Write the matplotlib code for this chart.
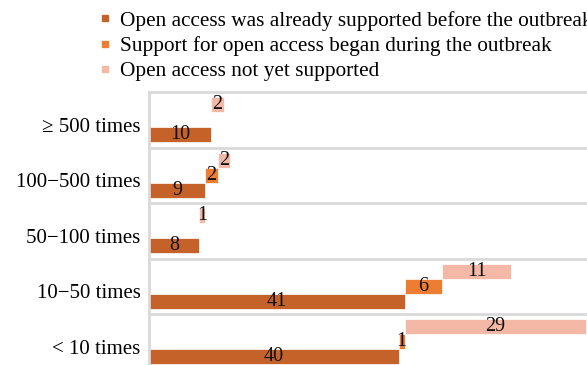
import matplotlib
matplotlib.use("Agg")
import matplotlib.pyplot as plt
from matplotlib.lines import Line2D
import numpy as np

# Download-count groups and the number of journals in each support status
categories = ["\u2265 500 times", "100\u2212500 times", "50\u2212100 times", "10\u221250 times", "< 10 times"]
already_supported = [10, 9, 8, 41, 40]
began_during = [0, 2, 0, 6, 1]
not_supported = [2, 2, 1, 11, 29]

series_names = ["Open access was already supported before the outbreak",
                "Support for open access began during the outbreak",
                "Open access not yet supported"]
colors = ["#C4622A", "#ED7D31", "#F4B8A6"]

plt.rcParams["font.family"] = ["Liberation Serif", "DejaVu Serif"]

fig = plt.figure(figsize=(5.87, 3.65), dpi=100)
ax = fig.add_axes([0.2538, -0.0123, 0.7462, 0.760])

y = np.arange(len(categories))
h = 0.27
series = [already_supported, began_during, not_supported]
offsets = [h, 0, -h]
left = np.zeros(len(categories))
for vals, off, col in zip(series, offsets, colors):
    vals = np.array(vals)
    bars = ax.barh(y + off, vals, height=h, left=left, color=col,
                   edgecolor="white", linewidth=0.5)
    ax.bar_label(bars, labels=[str(v) if v else "" for v in vals],
                 label_type="center", fontsize=14.5, color="#111111")
    left = left + vals

# separators between the groups
for b in np.arange(len(categories)) - 0.5:
    ax.axhline(b, color="#D9D9D9", linewidth=2, clip_on=False, zorder=0)

ax.set_xlim(0, 70.2)
ax.set_ylim(len(categories) - 0.5, -0.5)
ax.set_yticks(y + 0.09)
ax.set_yticklabels(categories, fontsize=15)
ax.set_xticks([])
ax.tick_params(axis="y", length=0, pad=6)
for s in ["top", "right", "bottom"]:
    ax.spines[s].set_visible(False)
ax.spines["left"].set_color("#D9D9D9")
ax.spines["left"].set_linewidth(2)

# legend runs past the right edge of the figure
handles = [Line2D([], [], marker="s", linestyle="none", markersize=5,
                  markerfacecolor=c, markeredgecolor=c) for c in colors]
fig.legend(handles, series_names, loc="upper left",
           bbox_to_anchor=(98 / 587, 1 - 11 / 365), frameon=False,
           fontsize=15.3, handlelength=0.65, handletextpad=0.4,
           borderpad=0, borderaxespad=0, labelspacing=0.25)

fig.savefig("out.png", dpi=100)
